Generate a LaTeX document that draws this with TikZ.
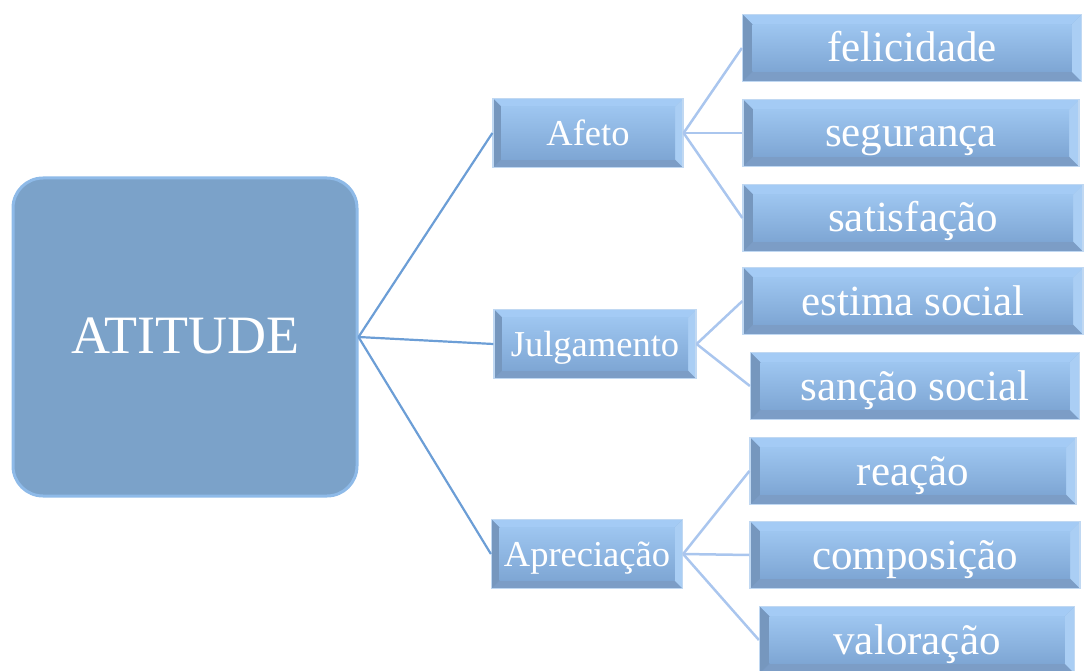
\documentclass[tikz,border=0pt]{standalone}
\usepackage{fontspec}
\setmainfont{Liberation Serif}
\usepackage{xcolor}
\usepackage{tikz}
\usetikzlibrary{calc}

\definecolor{facetop}{RGB}{158,198,240}
\definecolor{facebot}{RGB}{126,166,212}
\definecolor{faceleft}{RGB}{118,151,190}
\definecolor{facelow}{RGB}{124,157,198}
\definecolor{faceright}{RGB}{170,206,244}
\definecolor{facehigh}{RGB}{164,203,245}
\definecolor{boxedge}{RGB}{192,216,242}
\definecolor{atfill}{RGB}{123,162,201}
\definecolor{atedge}{RGB}{142,186,232}
\definecolor{linkdark}{RGB}{108,158,214}
\definecolor{linklight}{RGB}{170,198,238}

% bevel facets inside a box
\newcommand{\bevelfaces}[1]{%
	\path (path picture bounding box.north west) coordinate (bnw)
		(path picture bounding box.south east) coordinate (bse);
	\fill[facehigh] (bnw) -- (bse|-bnw) -- ($(bse|-bnw)+(-#1,-#1)$) -- ($(bnw)+(#1,-#1)$) -- cycle;
	\fill[facelow] (bnw|-bse) -- (bse) -- ($(bse)+(-#1,#1)$) -- ($(bnw|-bse)+(#1,#1)$) -- cycle;
	\fill[faceleft] (bnw) -- (bnw|-bse) -- ($(bnw|-bse)+(#1,#1)$) -- ($(bnw)+(#1,-#1)$) -- cycle;
	\fill[faceright] (bse|-bnw) -- (bse) -- ($(bse)+(-#1,#1)$) -- ($(bse|-bnw)+(-#1,-#1)$) -- cycle;
	\shade[top color=facetop,bottom color=facebot] ($(bnw)+(#1,-#1)$) rectangle ($(bse)+(-#1,#1)$);
}

\begin{document}
\begin{tikzpicture}[x=1pt,y=-1pt,
	bevel/.style={rectangle,inner sep=0pt,text=white,draw=boxedge,line width=1.2pt,
		fill=facebot,path picture={\bevelfaces{#1}}},
	leaf/.style={bevel=10pt,minimum height=67pt,text height=31pt,text depth=3pt,
		font=\fontsize{43}{49}\selectfont},
	mid/.style={bevel=8pt,minimum height=69pt,text height=25pt,text depth=0pt,
		font=\fontsize{36.5}{42}\selectfont},
	link/.style={draw=linkdark,line width=2.2pt},
	leaflink/.style={draw=linklight,line width=2.5pt}]
	\useasboundingbox (0,0) rectangle (1084,671);
	% root
	\node[rectangle,rounded corners=30pt,fill=atfill,draw=atedge,line width=3pt,
		minimum width=344pt,minimum height=318pt,text=white,text height=36pt,text depth=3pt,
		font=\fontsize{54}{62}\selectfont] (atitude) at (185,337) {ATITUDE};
	% middle level
	\node[mid,minimum width=190pt] (afeto) at (588,133) {Afeto};
	\node[mid,minimum width=202pt] (julgamento) at (595,344) {Julgamento};
	\node[mid,minimum width=191pt] (apreciacao) at (587,554) {Apreciação};
	% leaves
	\node[leaf,minimum width=339pt] (felicidade) at (912,48) {felicidade};
	\node[leaf,minimum width=336pt] (seguranca) at (911,133) {segurança};
	\node[leaf,minimum width=340pt] (satisfacao) at (913,218) {satisfação};
	\node[leaf,minimum width=340pt] (estima) at (913,301) {estima social};
	\node[leaf,minimum width=329pt] (sancao) at (915,386) {sanção social};
	\node[leaf,minimum width=326pt] (reacao) at (913,471) {reação};
	\node[leaf,minimum width=330pt] (composicao) at (915,555) {composição};
	\node[leaf,minimum width=315pt] (valoracao) at (917,640) {valoração};
	% connectors
	\foreach \sub in {afeto,julgamento,apreciacao}
		\draw[link] (atitude.east) -- (\sub.west);
	\foreach \leaf in {felicidade,seguranca,satisfacao}
		\draw[leaflink] (afeto.east) -- (\leaf.west);
	\foreach \leaf in {estima,sancao}
		\draw[leaflink] (julgamento.east) -- (\leaf.west);
	\foreach \leaf in {reacao,composicao,valoracao}
		\draw[leaflink] (apreciacao.east) -- (\leaf.west);
\end{tikzpicture}
\end{document}
